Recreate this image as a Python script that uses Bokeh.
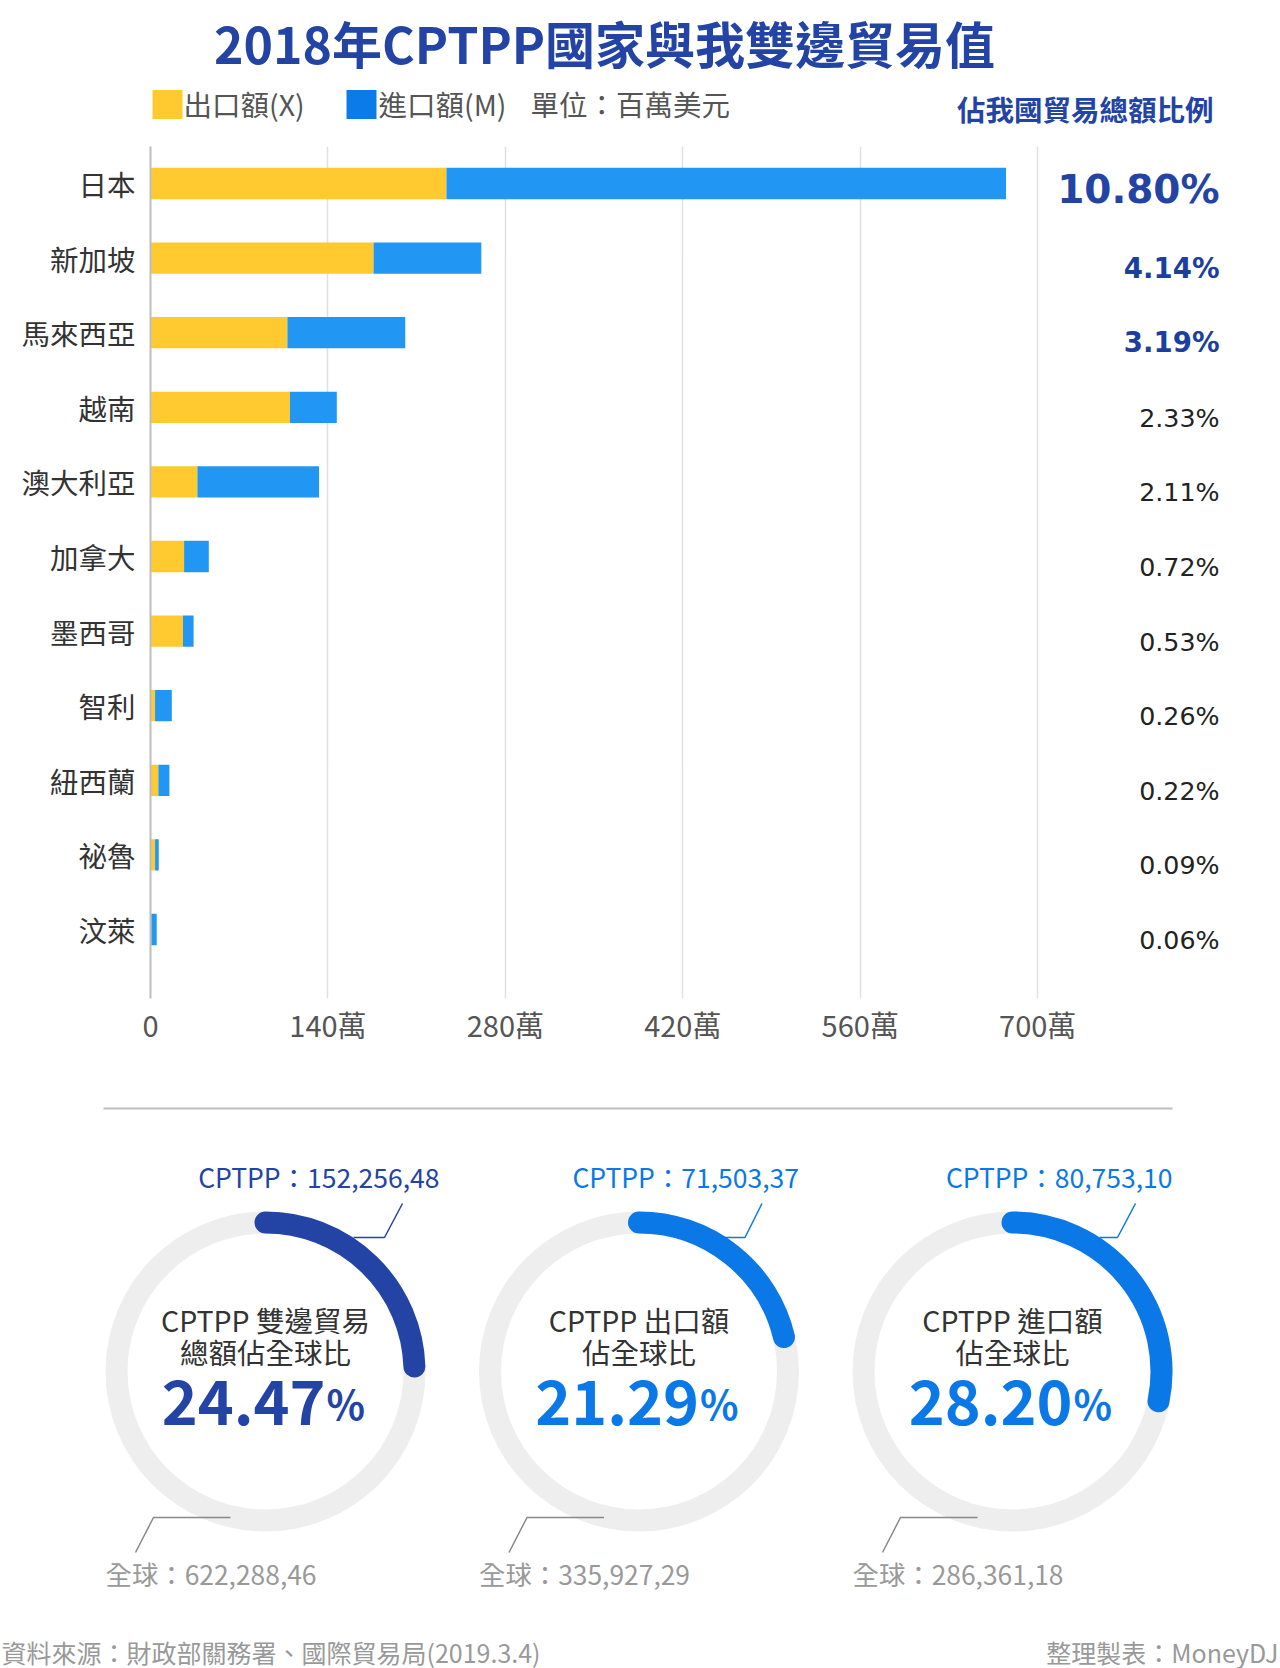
import math
from bokeh.plotting import figure
from bokeh.layouts import column
from bokeh.models import ColumnDataSource, Range1d, FixedTicker
from bokeh.core.properties import value
from bokeh.embed import file_html
from bokeh.resources import INLINE

# ---------------- data ----------------
countries = ["日本", "新加坡", "馬來西亞", "越南", "澳大利亞", "加拿大",
             "墨西哥", "智利", "紐西蘭", "祕魯", "汶萊"]
exports = [233.5, 176.0, 108.0, 110.0, 37.0, 26.5, 25.6, 3.6, 6.2, 3.6, 0.6]
imports = [441.5, 85.0, 93.0, 37.0, 96.0, 19.5, 8.4, 13.2, 8.7, 2.9, 4.3]
shares = ["10.80%", "4.14%", "3.19%", "2.33%", "2.11%", "0.72%",
          "0.53%", "0.26%", "0.22%", "0.09%", "0.06%"]
x_ticks = [0, 140, 280, 420, 560, 700]
x_tick_labels = ["0", "140萬", "280萬", "420萬", "560萬", "700萬"]

title_text = "2018年CPTPP國家與我雙邊貿易值"
legend_labels = ["出口額(X)", "進口額(M)"]
unit_text = "單位：百萬美元"
share_header = "佔我國貿易總額比例"

donut_line1 = ["CPTPP 雙邊貿易", "CPTPP 出口額", "CPTPP 進口額"]
donut_line2 = ["總額佔全球比", "佔全球比", "佔全球比"]
donut_pcts = [24.47, 21.29, 28.20]
cptpp_values = ["152,256,48", "71,503,37", "80,753,10"]
global_values = ["622,288,46", "335,927,29", "286,361,18"]
source_note = "資料來源：財政部關務署、國際貿易局(2019.3.4)"
credit_note = "整理製表：MoneyDJ"

# ---------------- styles ----------------
CJK = "Noto Sans CJK TC"
YELLOW = "#FFCA30"
BAR_BLUE = "#2196F3"
LEG_BLUE = "#0A7BE8"
NAVY = "#2343A5"
BRIGHT = "#0A78E6"
W = 1280
BL, BR = 150, 40   # shared left / right borders (frames are aligned in the column)
OV = "overlay"      # draw outside the frame without clipping


def blank(height, yr):
    p = figure(width=W, height=height, x_range=Range1d(BL, W - BR), y_range=Range1d(*yr),
               output_backend="svg", toolbar_location=None, title=None,
               x_axis_location=None, y_axis_location=None,
               min_border=0, min_border_left=BL, min_border_right=BR,
               min_border_top=0, min_border_bottom=0)
    p.outline_line_color = None
    p.grid.visible = False
    return p


# ---------------- header (data = page px) ----------------
hd = blank(128, (128, 0))
hd.text(x=[604], y=[41], text=[title_text], text_font=value(CJK), text_font_style="bold",
        text_font_size="50px", text_color=NAVY, text_align="center", text_baseline="middle",
        level=OV)
hd.rect(x=[167, 361], y=[104, 104], width=30, height=29, fill_color=[YELLOW, LEG_BLUE],
        line_color=None, level=OV)
hd.text(x=[183, 378], y=[103, 103], text=legend_labels, text_font=value(CJK),
        text_font_size="28.5px", text_color="#555555", text_align="left",
        text_baseline="middle", level=OV)
hd.text(x=[530], y=[103], text=[unit_text], text_font=value(CJK),
        text_font_size="28.5px", text_color="#555555", text_align="left",
        text_baseline="middle", level=OV)
hd.text(x=[1213], y=[108], text=[share_header], text_font=value(CJK), text_font_style="bold",
        text_font_size="28.5px", text_color=NAVY, text_align="right", text_baseline="middle",
        level=OV)

# ---------------- bar chart ----------------
idx = list(range(len(countries)))
src = ColumnDataSource(dict(
    y=idx,
    exp_l=[0] * len(idx),
    exp_r=exports,
    imp_l=exports,
    imp_r=[e + m for e, m in zip(exports, imports)],
))
bp = figure(width=W, height=932, x_range=Range1d(0, 860), y_range=Range1d(10.925, -0.496),
            output_backend="svg", toolbar_location=None, title=None,
            min_border_left=BL, min_border_right=BR, min_border_top=18, min_border_bottom=62)
bp.outline_line_color = None
bp.hbar(y="y", left="exp_l", right="exp_r", height=0.42, source=src,
        fill_color=YELLOW, line_color=None)
bp.hbar(y="y", left="imp_l", right="imp_r", height=0.42, source=src,
        fill_color=BAR_BLUE, line_color=None)

bp.xaxis.ticker = FixedTicker(ticks=x_ticks)
bp.xaxis.major_label_overrides = {t: l for t, l in zip(x_ticks, x_tick_labels)}
bp.xaxis.axis_line_color = None
bp.xaxis.major_tick_line_color = None
bp.xaxis.minor_tick_line_color = None
bp.xaxis.major_label_standoff = -2
bp.xaxis.major_label_text_font = CJK
bp.xaxis.major_label_text_font_size = "29px"
bp.xaxis.major_label_text_color = "#555555"

bp.yaxis.ticker = FixedTicker(ticks=idx)
bp.yaxis.major_label_overrides = {i: c for i, c in zip(idx, countries)}
bp.yaxis.axis_line_color = "#BDBDBD"
bp.yaxis.axis_line_width = 2
bp.yaxis.major_tick_line_color = None
bp.yaxis.minor_tick_line_color = None
bp.yaxis.major_label_standoff = 9
bp.yaxis.major_label_text_font = CJK
bp.yaxis.major_label_text_font_size = "28.5px"
bp.yaxis.major_label_text_color = "#333333"

bp.xgrid.ticker = FixedTicker(ticks=x_ticks)
bp.xgrid.grid_line_color = "#E0E0E0"
bp.xgrid.grid_line_width = 1.5
bp.ygrid.visible = False

PX = 843.5
bp.text(x=[PX], y=[0], text=[shares[0]], text_font=value("DejaVu Sans"), text_font_style="bold",
        text_font_size="39px", text_color=NAVY, text_align="right", text_baseline="middle",
        y_offset=6)
bp.text(x=[PX] * 2, y=idx[1:3], text=shares[1:3], text_font=value("DejaVu Sans"),
        text_font_style="bold", text_font_size="27.6px", text_color="#1B3F9F",
        text_align="right", text_baseline="middle", y_offset=10)
bp.text(x=[PX] * len(idx[3:]), y=idx[3:], text=shares[3:], text_font=value("DejaVu Sans"),
        text_font_size="25.3px", text_color="#222222",
        text_align="right", text_baseline="middle", y_offset=11)

# ---------------- donuts (data y = 1668 - page y) ----------------
BASE = 1668
dn = blank(608, (0, 608))
dn.line(x=[103, 1172], y=[BASE - 1108] * 2, line_color="#BDBDBD", line_width=2, level=OV)

arc_colors = [NAVY, BRIGHT, BRIGHT]
top_right = [174, 160, 160]
top_leader = [(88, 119, 137), (86, 106, 123), (87, 105, 123)]
centers_x = [265 + i * 373.5 for i in range(3)]
CY = 1371

dn.annulus(x=centers_x, y=[BASE - CY] * 3, inner_radius=138, outer_radius=160,
           fill_color="#EEEEEE", line_color=None, level=OV)
dn.arc(x=centers_x, y=[BASE - CY] * 3, radius=149,
       start_angle=[math.pi / 2 - p / 100 * 2 * math.pi for p in donut_pcts],
       end_angle=[math.pi / 2] * 3, direction="anticlock",
       line_color=arc_colors, line_width=22, line_cap="round", level=OV)

for i, cx in enumerate(centers_x):
    col = arc_colors[i]
    a, b, c = top_leader[i]
    dn.line(x=[cx + a, cx + b, cx + c], y=[BASE - (CY - 134), BASE - (CY - 134), BASE - (CY - 168)],
            line_color=col, line_width=1.5, level=OV)
    dn.text(x=[cx + top_right[i]], y=[BASE - (CY - 195)], text=["CPTPP：" + cptpp_values[i]],
            text_font=value(CJK), text_font_size="26.5px", text_color=col,
            text_align="right", text_baseline="middle", level=OV)
    dn.line(x=[cx - 35, cx - 112, cx - 130], y=[BASE - (CY + 146), BASE - (CY + 146), BASE - (CY + 181)],
            line_color="#888888", line_width=1.5, level=OV)
    dn.text(x=[cx - 160], y=[BASE - (CY + 202)], text=["全球：" + global_values[i]],
            text_font=value(CJK), text_font_size="26.4px", text_color="#999999",
            text_align="left", text_baseline="middle", level=OV)
    dn.text(x=[cx, cx], y=[BASE - (CY - 52), BASE - (CY - 20)], text=[donut_line1[i], donut_line2[i]],
            text_font=value(CJK), text_font_size="28.5px", text_color="#333333",
            text_align="center", text_baseline="middle", level=OV)
    dn.text(x=[cx + 60], y=[BASE - (CY + 31)], text=[f"{donut_pcts[i]:.2f}"],
            text_font=value(CJK), text_font_style="bold", text_font_size="61px", text_color=col,
            text_align="right", text_baseline="alphabetic", level=OV)
    dn.text(x=[cx + 61], y=[BASE - (CY + 31)], text=["%"],
            text_font=value(CJK), text_font_style="bold", text_font_size="40px", text_color=col,
            text_align="left", text_baseline="alphabetic", level=OV)

dn.text(x=[1], y=[BASE - 1651], text=[source_note], text_font=value(CJK), text_font_size="25px",
        text_color="#999999", text_align="left", text_baseline="middle", level=OV)
dn.text(x=[1278], y=[BASE - 1651], text=[credit_note], text_font=value(CJK), text_font_size="25px",
        text_color="#999999", text_align="right", text_baseline="middle", level=OV)

page = column(hd, bp, dn, spacing=0)
open("out.html", "w").write(file_html(page, INLINE))
